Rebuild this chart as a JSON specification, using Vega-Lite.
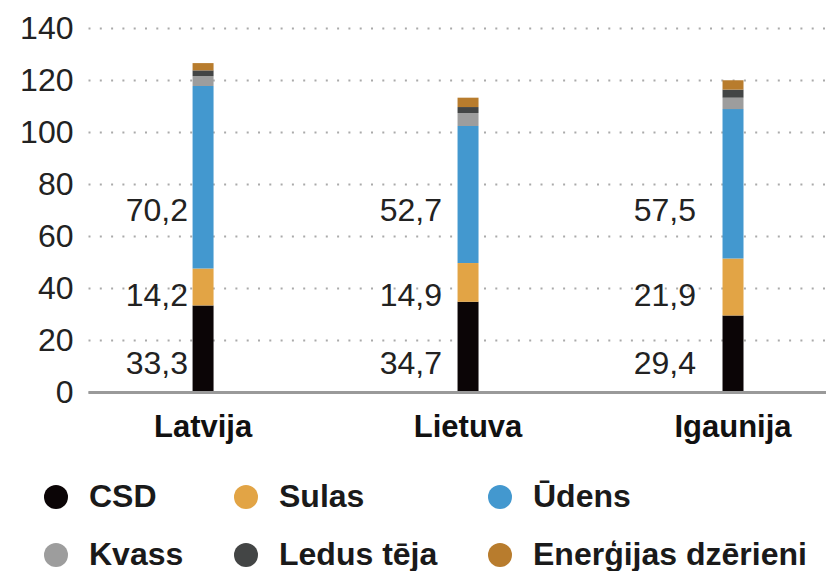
{
  "$schema": "https://vega.github.io/schema/vega-lite/v6.json",
  "width": 738,
  "height": 364,
  "autosize": {"type": "none"},
  "padding": {"left": 88, "top": 28, "right": 0, "bottom": 179},
  "background": "white",
  "config": {
    "view": {"stroke": null},
    "font": "Liberation Sans",
    "locale": {"number": {"decimal": ",", "thousands": " ", "grouping": [3], "currency": ["", " €"]}}
  },
  "data": {
    "values": [
      {"country": "Latvija", "drink": "CSD", "value": 33.3},
      {"country": "Latvija", "drink": "Sulas", "value": 14.2},
      {"country": "Latvija", "drink": "Ūdens", "value": 70.2},
      {"country": "Latvija", "drink": "Kvass", "value": 3.8},
      {"country": "Latvija", "drink": "Ledus tēja", "value": 2.2},
      {"country": "Latvija", "drink": "Enerģijas dzērieni", "value": 2.8},
      {"country": "Lietuva", "drink": "CSD", "value": 34.7},
      {"country": "Lietuva", "drink": "Sulas", "value": 14.9},
      {"country": "Lietuva", "drink": "Ūdens", "value": 52.7},
      {"country": "Lietuva", "drink": "Kvass", "value": 5.0},
      {"country": "Lietuva", "drink": "Ledus tēja", "value": 2.3},
      {"country": "Lietuva", "drink": "Enerģijas dzērieni", "value": 3.6},
      {"country": "Igaunija", "drink": "CSD", "value": 29.4},
      {"country": "Igaunija", "drink": "Sulas", "value": 21.9},
      {"country": "Igaunija", "drink": "Ūdens", "value": 57.5},
      {"country": "Igaunija", "drink": "Kvass", "value": 4.4},
      {"country": "Igaunija", "drink": "Ledus tēja", "value": 3.1},
      {"country": "Igaunija", "drink": "Enerģijas dzērieni", "value": 3.6}
    ]
  },
  "layer": [
    {
      "transform": [
        {"calculate": "indexof(['CSD','Sulas','Ūdens','Kvass','Ledus tēja','Enerģijas dzērieni'], datum.drink)", "as": "stackRank"}
      ],
      "mark": {"type": "bar"},
      "encoding": {
        "x": {
          "field": "country", "type": "nominal",
          "sort": ["Latvija", "Lietuva", "Igaunija"],
          "scale": {"paddingInner": 0.9208, "paddingOuter": 0.353, "align": 0.559},
          "axis": {
            "title": null, "ticks": false, "labelAngle": 0,
            "domainColor": "#9a9a9a", "domainWidth": 3,
            "labelFontSize": 31, "labelFontWeight": "bold", "labelColor": "#111111",
            "labelPadding": 20, "zindex": 1
          }
        },
        "y": {
          "field": "value", "type": "quantitative", "stack": "zero",
          "scale": {"domain": [0, 140], "nice": false},
          "axis": {
            "title": null, "values": [0, 20, 40, 60, 80, 100, 120, 140],
            "domain": false, "ticks": false,
            "labelFontSize": 32, "labelColor": "#222222", "labelPadding": 15,
            "gridDash": [2, 9.3], "gridColor": "#aaaaaa", "gridWidth": 2
          }
        },
        "order": {"field": "stackRank", "type": "quantitative", "sort": "ascending"},
        "color": {
          "field": "drink", "type": "nominal",
          "sort": ["CSD", "Sulas", "Ūdens", "Kvass", "Ledus tēja", "Enerģijas dzērieni"],
          "scale": {
            "domain": ["CSD", "Sulas", "Ūdens", "Kvass", "Ledus tēja", "Enerģijas dzērieni"],
            "range": ["#0b0506", "#e2a445", "#4398cf", "#9d9d9d", "#434545", "#b87c2d"]
          },
          "legend": {
            "title": null, "orient": "none", "legendX": -48, "legendY": 453,
            "direction": "horizontal", "columns": 3,
            "symbolType": "circle", "symbolSize": 576, "symbolStrokeWidth": 0,
            "labelFontSize": 32, "labelFontWeight": "bold", "labelColor": "#1a1a1a",
            "labelOffset": 17, "columnPadding": 46, "rowPadding": 26, "padding": 0,
            "labelLimit": 400
          }
        }
      }
    },
    {
      "transform": [{"filter": "datum.drink === 'CSD'"}],
      "mark": {"type": "text", "align": "right", "baseline": "alphabetic", "fontSize": 32, "color": "#222222"},
      "encoding": {
        "x": {"field": "country", "type": "nominal", "sort": ["Latvija", "Lietuva", "Igaunija"],
              "scale": {"type": "point", "padding": 0.4528, "align": 0.435}, "axis": null},
        "y": {"datum": 6.8, "type": "quantitative"},
        "text": {"field": "value", "type": "quantitative", "format": ".1f"}
      }
    },
    {
      "transform": [{"filter": "datum.drink === 'Sulas'"}],
      "mark": {"type": "text", "align": "right", "baseline": "alphabetic", "fontSize": 32, "color": "#222222"},
      "encoding": {
        "x": {"field": "country", "type": "nominal", "sort": ["Latvija", "Lietuva", "Igaunija"],
              "scale": {"type": "point", "padding": 0.4528, "align": 0.435}, "axis": null},
        "y": {"datum": 33.1, "type": "quantitative"},
        "text": {"field": "value", "type": "quantitative", "format": ".1f"}
      }
    },
    {
      "transform": [{"filter": "datum.drink === 'Ūdens'"}],
      "mark": {"type": "text", "align": "right", "baseline": "alphabetic", "fontSize": 32, "color": "#222222"},
      "encoding": {
        "x": {"field": "country", "type": "nominal", "sort": ["Latvija", "Lietuva", "Igaunija"],
              "scale": {"type": "point", "padding": 0.4528, "align": 0.435}, "axis": null},
        "y": {"datum": 65.8, "type": "quantitative"},
        "text": {"field": "value", "type": "quantitative", "format": ".1f"}
      }
    }
  ],
  "resolve": {"scale": {"x": "independent"}}
}
